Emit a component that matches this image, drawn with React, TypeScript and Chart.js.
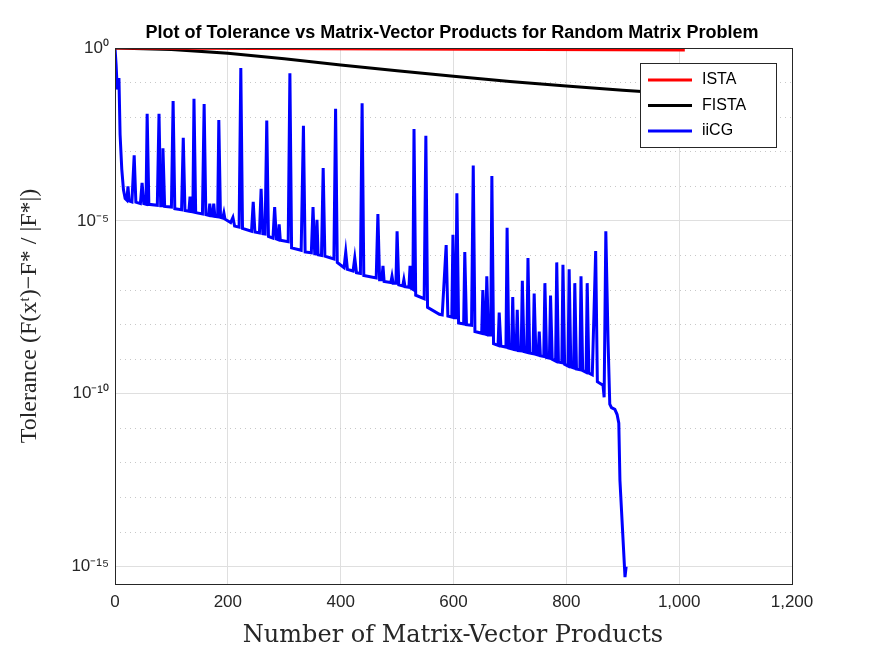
import { useEffect, useRef } from 'react';
import { Chart, registerables } from 'chart.js';

Chart.register(...registerables);

// [matrix-vector products, log10(tolerance)]
const istaPoints = [[0, 0], [250, -0.015], [500, -0.03], [750, -0.045], [1010, -0.06]];
const fistaPoints = [[0, 0], [100, -0.04], [200, -0.15], [300, -0.31], [400, -0.49], [500, -0.66], [600, -0.82], [700, -0.97], [800, -1.1], [900, -1.22], [1001, -1.33]];
const iicgPoints = [[0,0],[2,-0.5],[4,-1.2],[7,-0.87],[9,-2.5],[12,-3.5],[15,-4.1],[18,-4.35],[21,-4.4],[23,-4.0],[25,-4.42],[30,-4.45],[34,-3.1],[37,-4.46],[45,-4.5],[48,-3.9],[51,-4.5],[55,-4.52],[57,-1.9],[60,-4.52],[75,-4.55],[78,-1.9],[81,-4.56],[84,-4.56],[85,-2.9],[88,-4.58],[100,-4.6],[103,-1.53],[106,-4.65],[118,-4.68],[121,-2.6],[124,-4.7],[131,-4.72],[133,-4.3],[135,-4.73],[138,-4.74],[140,-1.47],[143,-4.76],[155,-4.8],[158,-1.62],[161,-4.82],[166,-4.84],[168,-4.5],[170,-4.85],[173,-4.86],[175,-4.5],[177,-4.87],[182,-4.88],[184,-2.08],[187,-4.9],[191,-4.92],[193,-4.77],[195,-4.95],[205,-5.05],[209,-4.9],[212,-5.15],[220,-5.18],[223,-0.58],[226,-5.22],[242,-5.3],[245,-4.45],[248,-5.32],[256,-5.35],[259,-4.07],[262,-5.37],[266,-5.38],[269,-2.1],[272,-5.45],[280,-5.5],[283,-4.6],[286,-5.52],[289,-5.54],[291,-5.1],[293,-5.56],[307,-5.6],[310,-0.73],[313,-5.78],[330,-5.85],[334,-2.25],[337,-5.9],[348,-5.92],[351,-4.6],[354,-5.95],[356,-5.95],[358,-4.97],[360,-5.98],[366,-6.0],[369,-3.47],[372,-6.02],[388,-6.1],[391,-1.76],[394,-6.2],[406,-6.35],[409,-5.9],[412,-6.4],[422,-6.45],[425,-6.07],[428,-6.5],[435,-6.52],[438,-1.6],[441,-6.58],[463,-6.65],[466,-4.8],[469,-6.7],[473,-6.7],[475,-6.3],[477,-6.75],[489,-6.78],[491,-6.6],[493,-6.8],[498,-6.8],[500,-5.3],[503,-6.85],[510,-6.88],[512,-6.7],[514,-6.9],[521,-6.92],[523,-6.3],[525,-6.95],[528,-6.98],[530,-2.34],[533,-7.15],[548,-7.25],[551,-2.54],[554,-7.5],[575,-7.7],[580,-7.72],[587,-5.7],[590,-7.75],[597,-7.78],[599,-5.4],[602,-7.8],[604,-7.8],[606,-4.2],[609,-7.95],[618,-7.98],[620,-5.9],[623,-8.0],[632,-8.02],[635,-3.4],[638,-8.2],[650,-8.25],[652,-7.0],[655,-8.27],[657,-8.28],[659,-6.6],[662,-8.3],[666,-8.3],[668,-3.7],[671,-8.55],[679,-8.6],[681,-7.65],[684,-8.62],[693,-8.65],[695,-5.2],[698,-8.68],[703,-8.7],[705,-7.2],[707,-8.72],[711,-8.73],[713,-7.57],[715,-8.75],[720,-8.76],[722,-6.73],[725,-8.78],[730,-8.8],[732,-6.07],[735,-8.82],[741,-8.84],[743,-7.1],[746,-8.86],[750,-8.88],[752,-8.2],[754,-8.9],[760,-8.92],[762,-6.8],[765,-8.95],[770,-8.97],[772,-7.16],[775,-9.0],[781,-9.05],[783,-6.2],[786,-9.08],[792,-9.1],[794,-6.27],[797,-9.15],[803,-9.2],[805,-6.4],[808,-9.22],[813,-9.25],[815,-6.8],[818,-9.28],[824,-9.3],[826,-6.6],[829,-9.33],[835,-9.38],[837,-6.8],[840,-9.4],[846,-9.45],[852,-5.87],[855,-9.65],[860,-9.7],[865,-9.75],[867,-10.1],[870,-5.3],[874,-8.5],[877,-10.3],[880,-10.4],[886,-10.45],[890,-10.6],[893,-10.85],[895,-12.5],[904,-15.3],[906,-15.0]];

const xTicks = [0, 200, 400, 600, 800, 1000, 1200];
const decades = [0, -1, -2, -3, -4, -5, -6, -7, -8, -9, -10, -11, -12, -13, -14, -15];
const labelledDecades = [0, -5, -10, -15];

const sup: Record<string, string> = { '0': '⁰', '1': '¹', '5': '⁵', '-': '⁻' };
const toPts = (p: number[][]) => p.map(([x, e]) => ({ x, y: Math.pow(10, e) }));
const decadeOf = (v: number) => Math.round(Math.log10(v));

const frame = {
  id: 'frame',
  afterDraw(chart: any) {
    const { ctx, chartArea: a } = chart;
    ctx.save();
    ctx.strokeStyle = '#262626';
    ctx.lineWidth = 1;
    ctx.strokeRect(a.left + 0.5, a.top + 0.5, a.right - a.left, a.bottom - a.top);
    // title + axis titles
    ctx.fillStyle = '#000';
    ctx.textAlign = 'center';
    ctx.font = 'bold 18px "Liberation Sans", Arial';
    ctx.fillText('Plot of Tolerance vs Matrix-Vector Products for Random Matrix Problem', 452, 38);
    ctx.fillStyle = '#262626';
    ctx.font = '24px "DejaVu Serif", "Liberation Serif", serif';
    ctx.fillText('Number of Matrix-Vector Products', 453, 642);
    ctx.translate(36, 316);
    ctx.rotate(-Math.PI / 2);
    ctx.font = '24px "Liberation Serif", serif';
    ctx.fillText('Tolerance (F(xᵗ)−F* / |F*|)', 0, 0);
    ctx.restore();
    // legend
    ctx.save();
    ctx.fillStyle = '#fff';
    ctx.strokeStyle = '#262626';
    ctx.fillRect(640, 63, 136, 84);
    ctx.strokeRect(640.5, 63.5, 136, 84);
    const items = [['ISTA', '#ff0000'], ['FISTA', '#000000'], ['iiCG', '#0000ff']];
    ctx.font = '16px "Liberation Sans", Arial';
    ctx.textBaseline = 'middle';
    items.forEach(([t, c], i) => {
      const y = 80 + i * 25.5;
      ctx.strokeStyle = c;
      ctx.lineWidth = 3;
      ctx.beginPath();
      ctx.moveTo(648, y);
      ctx.lineTo(692, y);
      ctx.stroke();
      ctx.fillStyle = '#000';
      ctx.fillText(t, 702, y);
    });
    ctx.restore();
  }
};

export default function App() {
  const canvasRef = useRef<HTMLCanvasElement>(null);

  useEffect(() => {
    document.body.style.margin = '0';
    if (!canvasRef.current) return;
    const tickFont = { family: '"Liberation Sans", Arial', size: 17 };
    const buildDecades = (s: any) => { s.ticks = decades.map(d => ({ value: Math.pow(10, d) })); };
    const chart = new Chart(canvasRef.current, {
      type: 'line',
      data: {
        datasets: [
          { label: 'ISTA', data: toPts(istaPoints), borderColor: '#ff0000', borderWidth: 3, pointRadius: 0 },
          { label: 'FISTA', data: toPts(fistaPoints), borderColor: '#000000', borderWidth: 3, pointRadius: 0 },
          { label: 'iiCG', data: toPts(iicgPoints), borderColor: '#0000ff', borderWidth: 3, pointRadius: 0 }
        ]
      },
      options: {
        animation: false,
        responsive: false,
        layout: { padding: { top: 48 } },
        plugins: { legend: { display: false }, tooltip: { enabled: false } },
        scales: {
          x: {
            type: 'linear', min: 0, max: 1200,
            afterBuildTicks: (s: any) => { s.ticks = xTicks.map(v => ({ value: v })); },
            afterFit: (s: any) => { s.height = 72; },
            grid: { color: '#dfdfdf', tickLength: 0 },
            border: { display: false },
            ticks: { color: '#262626', font: tickFont, padding: 8 }
          },
          y: {
            type: 'logarithmic', min: Math.pow(10, -15.5), max: 1,
            afterBuildTicks: buildDecades,
            afterFit: (s: any) => { s.width = 115; },
            grid: {
              color: (c: any) => labelledDecades.includes(decadeOf(c.tick.value)) ? 'rgba(0,0,0,0)' : '#c8c8c8',
              tickLength: 0
            },
            border: { display: false, dash: [1, 4] },
            ticks: {
              color: '#262626', font: tickFont, padding: 6,
              callback: (v: any) => {
                const d = decadeOf(v);
                if (!labelledDecades.includes(d)) return '';
                return '10' + String(d).split('').map(ch => sup[ch]).join('');
              }
            }
          },
          y2: {
            type: 'logarithmic', position: 'right', min: Math.pow(10, -15.5), max: 1,
            afterBuildTicks: buildDecades,
            afterFit: (s: any) => { s.width = 83; },
            grid: {
              color: (c: any) => labelledDecades.includes(decadeOf(c.tick.value)) ? '#dfdfdf' : 'rgba(0,0,0,0)',
              tickLength: 0
            },
            border: { display: false },
            ticks: { callback: () => '' }
          }
        }
      },
      plugins: [frame]
    } as any);
    return () => chart.destroy();
  }, []);

  return <canvas ref={canvasRef} width={875} height={656} style={{ display: 'block' }} />;
}
